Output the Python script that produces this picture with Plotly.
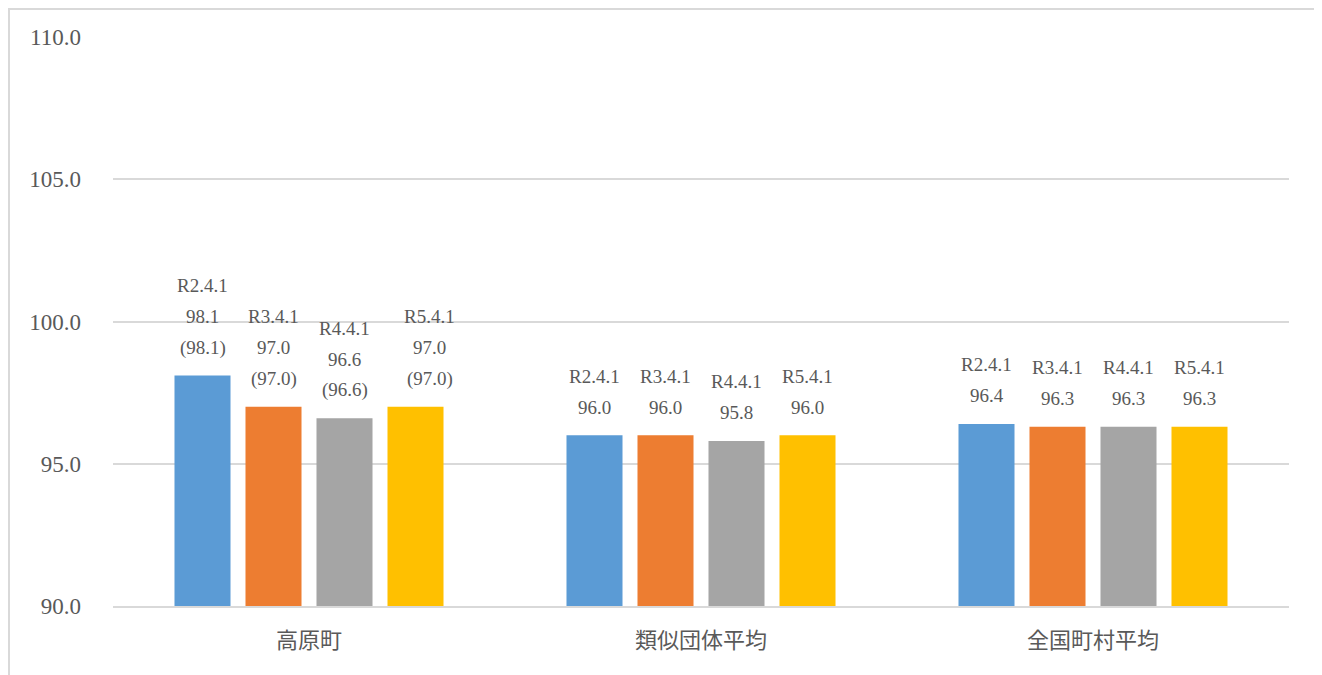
import plotly.graph_objects as go

categories = ["高原町", "類似団体平均", "全国町村平均"]
series_names = ["R2.4.1", "R3.4.1", "R4.4.1", "R5.4.1"]
values = {
    "R2.4.1": [98.1, 96.0, 96.4],
    "R3.4.1": [97.0, 96.0, 96.3],
    "R4.4.1": [96.6, 95.8, 96.3],
    "R5.4.1": [97.0, 96.0, 96.3],
}
# bracketed values shown only for the first category
paren_values = {
    "R2.4.1": ["(98.1)", None, None],
    "R3.4.1": ["(97.0)", None, None],
    "R4.4.1": ["(96.6)", None, None],
    "R5.4.1": ["(97.0)", None, None],
}
colors = ["#5B9BD5", "#ED7D31", "#A5A5A5", "#FFC000"]
y_ticks = [90, 95, 100, 105, 110]

FONT = "Liberation Serif, DejaVu Serif, Noto Sans CJK JP, serif"
TXT = "#595959"

fig = go.Figure()
for s, c in zip(series_names, colors):
    fig.add_trace(go.Bar(x=categories, y=values[s], name=s, marker_color=c,
                         marker_line_width=0, hoverinfo="x+y"))

slot = 71
annotations = []
for j, s in enumerate(series_names):
    for i, cat in enumerate(categories):
        v = values[s][i]
        xs = (j - 1.5) * slot
        if i == 0 and j == 3:
            xs += 14
        lines = [s, f"{v:.1f}"]
        if paren_values[s][i]:
            lines.append(paren_values[s][i])
        shifts = [28, 59, 90][:len(lines)]
        for t, sh in zip(reversed(lines), shifts):
            annotations.append(dict(x=cat, y=v, xref="x", yref="y", text=t,
                                    showarrow=False, xshift=xs, yshift=sh,
                                    yanchor="middle", xanchor="center",
                                    font=dict(family=FONT, size=19, color=TXT)))

# page has an 8px body margin
W, H = 1322, 675
ml, mt = 105, 29
pw, ph = 1176, 569
mr = W - ml - pw
mb = H - mt - ph

fig.update_layout(
    width=W, height=H, barmode="group", bargap=0.2755, bargroupgap=0.211,
    margin=dict(l=ml, r=mr, t=mt, b=mb),
    paper_bgcolor="white", plot_bgcolor="white", showlegend=False,
    font=dict(family=FONT, color=TXT),
    annotations=annotations,
    shapes=[dict(type="rect", xref="paper", yref="paper",
                 x0=(1 - ml) / pw, x1=(1311 - ml) / pw,
                 y0=-(mb + 20) / ph, y1=1 + (mt - 1) / ph,
                 line=dict(color="#D9D9D9", width=2), layer="below")],
)
fig.update_yaxes(range=[90, 110], tickvals=y_ticks, tickformat=".1f",
                 showgrid=True, gridcolor="#D9D9D9", gridwidth=1.5,
                 zeroline=False, showline=False, ticks="",
                 ticklabelstandoff=31,
                 tickfont=dict(family=FONT, size=23, color=TXT))
fig.update_xaxes(showline=True, linecolor="#D9D9D9", linewidth=1.5, ticks="",
                 ticklabelstandoff=14,
                 tickfont=dict(family=FONT, size=22, color=TXT))

fig.write_html("out.html")
